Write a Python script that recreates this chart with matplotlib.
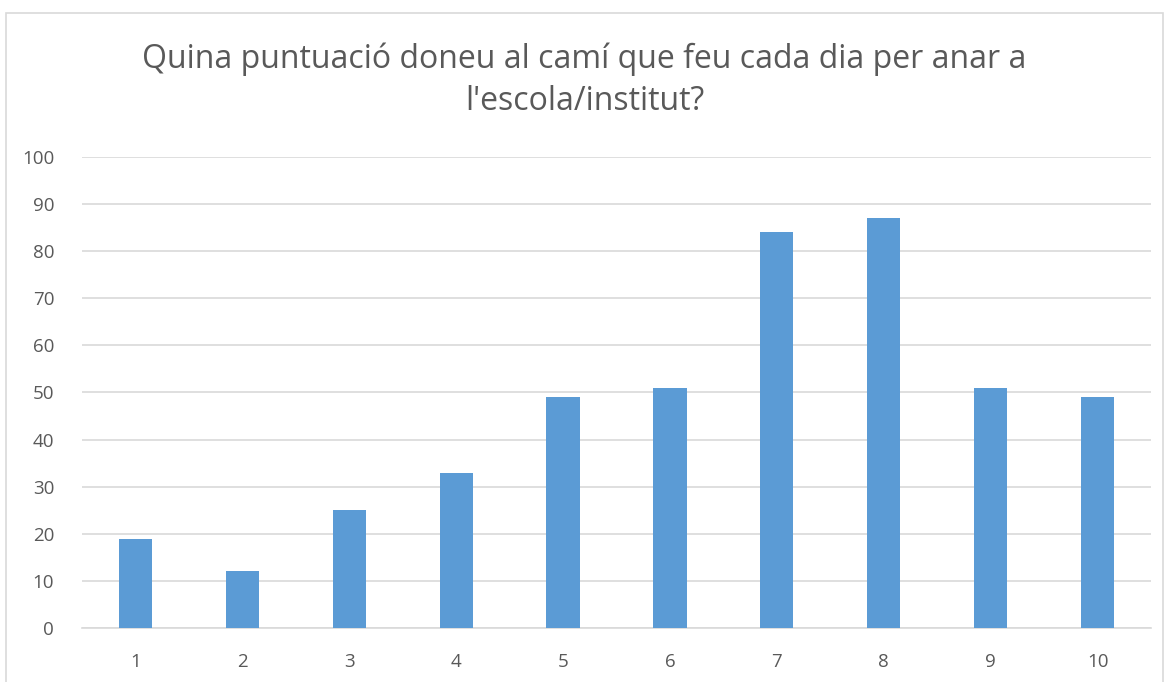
import matplotlib.pyplot as plt
from matplotlib.patches import Rectangle

categories = ['1', '2', '3', '4', '5', '6', '7', '8', '9', '10']
values = [19, 12, 25, 33, 49, 51, 84, 87, 51, 49]
yticks = [0, 10, 20, 30, 40, 50, 60, 70, 80, 90, 100]

plt.rcParams['font.family'] = ['Open Sans', 'DejaVu Sans']

W, H = 1169, 682
fig = plt.figure(figsize=(W / 100, H / 100), dpi=100)

# chart area border
fig.patches.append(Rectangle((6 / W, -0.05), (1163 - 6) / W, 1.05 - 13 / H,
                             transform=fig.transFigure, fill=False,
                             edgecolor='#d9d9d9', linewidth=1.2))

ax = fig.add_axes([82 / W, 1 - 628 / H, (1151 - 82) / W, (628 - 157) / H])
x = range(len(categories))
ax.bar(x, values, width=0.31, color='#5b9bd5', zorder=3)

ax.set_xlim(-0.5, len(categories) - 0.5)
ax.set_ylim(0, 100)
ax.set_yticks(yticks)
ax.set_xticks(list(x))
ax.set_xticklabels(categories)
ax.grid(axis='y', color='#d9d9d9', linewidth=1.2, zorder=0)
for s in ['top', 'right', 'left']:
    ax.spines[s].set_visible(False)
ax.spines['bottom'].set_color('#d9d9d9')
ax.spines['bottom'].set_linewidth(1.2)
ax.tick_params(length=0, labelsize=13.5, colors='#595959')
ax.tick_params(axis='x', pad=18)
ax.tick_params(axis='y', pad=20)

fig.text(0.5, 1 - 80 / H, "Quina puntuació doneu al camí que feu cada dia per anar a\nl'escola/institut?",
         ha='center', va='center', fontsize=23, color='#595959', linespacing=1.38)

fig.savefig('out.png', dpi=100)
